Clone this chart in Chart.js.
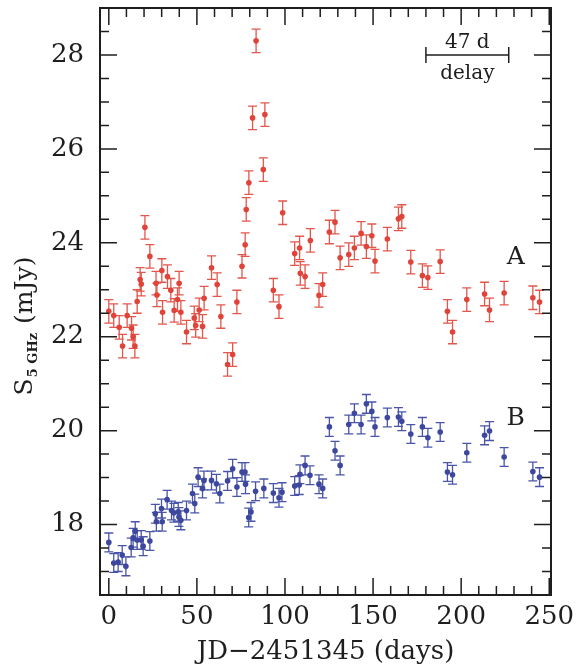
<!DOCTYPE html>
<html>
<head>
<meta charset="utf-8">
<script src="https://cdn.jsdelivr.net/npm/chart.js@4"></script>
<style>
  html, body { margin: 0; padding: 0; background: #fff; }
  #wrap { width: 576px; height: 671px; }
</style>
</head>
<body>
<div id="wrap"><canvas id="lightCurve"></canvas></div>
<script>
// Image A (red)
const daysA = [0, 2.8, 5.9, 7.8, 10.4, 12.9, 13.8, 14.8, 16.1, 17.8, 18.4, 20.5, 23.3, 26.8, 27.3,
  30.1, 30.5, 33.3, 35.2, 37.1, 39.0, 39.9, 40.9, 44.1, 48.5, 49.3, 51.3, 53.2, 54.1, 58.3, 61.5,
  63.6, 67.4, 70.3, 72.7, 75.6, 77.4, 78.0, 79.5, 81.6, 83.6, 87.7, 88.6, 93.4, 96.6, 98.7, 105.5,
  108.3, 108.7, 111.4, 114.4, 119.3, 121.4, 125.2, 128.4, 131.3, 136.2, 139.4, 143.2, 146.2, 149.3,
  151.1, 158.1, 164.4, 166.3, 171.4, 178.0, 181.1, 188.1, 192.2, 195.1, 203.2, 213.3, 216.1, 224.4,
  240.7, 244.5];
const fluxA = [22.54, 22.45, 22.2, 21.8, 22.45, 22.18, 22.0, 21.8, 22.75, 23.22, 23.12, 24.33, 23.71, 23.14, 22.89,
  23.41, 22.52, 23.28, 22.99, 22.56, 22.79, 23.14, 22.52, 22.1, 22.4, 22.24, 22.57, 22.22, 22.82, 23.47, 23.11,
  22.43, 21.41, 21.62, 22.74, 23.5, 23.96, 24.71, 25.28, 26.66, 28.3, 25.56, 26.73, 22.99, 22.64, 24.64, 23.77,
  23.89, 23.35, 23.28, 24.05, 22.88, 23.11, 24.23, 24.44, 23.68, 23.75, 23.89, 24.2, 23.92, 24.15,
  23.61, 24.08, 24.51, 24.56, 23.59, 23.3, 23.26, 23.6, 22.54, 22.1, 22.79, 22.91, 22.57, 22.93,
  22.83, 22.74];
const errA = 0.25;

// Image B (blue)
const daysB = [0, 2.8, 5.3, 7.6, 9.7, 12.7, 13.8, 15.0, 16.1, 18.4, 19.5, 23.3, 26.4, 27.0, 29.9,
  30.3, 33.1, 35.6, 36.9, 39.4, 39.8, 40.9, 44.1, 47.5, 48.8, 50.7, 53.2, 54.0, 58.3, 61.1, 63.0,
  67.4, 70.3, 72.7, 75.6, 77.3, 77.6, 79.4, 80.7, 83.3, 88.0, 93.4, 96.6, 98.3, 105.5, 108.1, 108.5,
  111.4, 114.2, 119.3, 121.4, 125.2, 128.4, 131.3, 136.2, 139.4, 143.2, 146.2, 149.3, 151.1, 158.1,
  164.4, 166.3, 171.4, 178.0, 181.1, 188.1, 192.2, 195.1, 203.2, 213.3, 216.1, 224.4, 240.7, 244.5];
const fluxB = [17.62, 17.18, 17.2, 17.35, 17.11, 17.51, 17.72, 17.86, 17.67, 17.67, 17.54, 17.65, 18.23, 18.06, 18.34,
  18.06, 18.53, 18.3, 18.25, 18.27, 18.16, 18.09, 18.3, 18.66, 18.45, 19.01, 18.77, 18.94, 18.94, 18.87, 18.66,
  18.93, 19.19, 18.8, 19.12, 19.12, 18.86, 18.15, 18.27, 18.71, 18.77, 18.67, 18.57, 18.69, 18.82, 18.84, 19.07,
  19.26, 19.05, 18.86, 18.77, 20.08, 19.57, 19.26, 20.13, 20.37, 20.13, 20.57, 20.41, 20.08, 20.28,
  20.29, 20.2, 19.93, 20.08, 19.85, 19.97, 19.12, 19.06, 19.53, 19.9, 19.99, 19.44, 19.13, 19.01];
const errB = 0.2;

const xTickLabels = [0, 50, 100, 150, 200, 250];
const yTickLabels = [18, 20, 22, 24, 26, 28];
const delayDays = 47;

const RED = '#e0433a';
const BLUE = '#3d479e';
const INK = '#1e1e1e';
const SERIF = '"DejaVu Serif", "Liberation Serif", serif';

const toPoints = (days, flux, err) => days.map((d, i) => ({ x: d, y: flux[i], e: err }));

// error bars with caps
const errorBars = {
  id: 'errorBars',
  beforeDatasetsDraw(chart) {
    const { ctx, scales: { x, y } } = chart;
    ctx.save();
    ctx.lineWidth = 1.3;
    chart.data.datasets.forEach((ds) => {
      ctx.strokeStyle = ds.barColor;
      ds.data.forEach((p) => {
        const px = x.getPixelForValue(p.x);
        const top = y.getPixelForValue(p.y + p.e);
        const bot = y.getPixelForValue(p.y - p.e);
        ctx.beginPath();
        ctx.moveTo(px, top); ctx.lineTo(px, bot);
        ctx.moveTo(px - 4.5, top); ctx.lineTo(px + 4.5, top);
        ctx.moveTo(px - 4.5, bot); ctx.lineTo(px + 4.5, bot);
        ctx.stroke();
      });
    });
    ctx.restore();
  },
};

// box frame with inward ticks on all four sides
const frameTicks = {
  id: 'frameTicks',
  afterDraw(chart) {
    const { ctx, chartArea: a, scales: { x, y } } = chart;
    ctx.save();
    ctx.strokeStyle = INK;
    ctx.lineWidth = 1.5;
    ctx.beginPath();
    for (let d = 0; d <= 250; d += 10) {
      const px = x.getPixelForValue(d);
      const len = d % 50 === 0 ? 17 : 9;
      ctx.moveTo(px, a.bottom); ctx.lineTo(px, a.bottom - len);
      ctx.moveTo(px, a.top); ctx.lineTo(px, a.top + len);
    }
    for (let v = 17; v <= 28.5; v += 0.5) {
      const py = y.getPixelForValue(v);
      const len = v % 2 === 0 ? 17 : 9;
      ctx.moveTo(a.left, py); ctx.lineTo(a.left + len, py);
      ctx.moveTo(a.right, py); ctx.lineTo(a.right - len, py);
    }
    ctx.stroke();
    ctx.lineWidth = 2;
    ctx.strokeRect(a.left, a.top, a.right - a.left, a.bottom - a.top);

    // y axis title: S_5GHz (mJy)
    ctx.fillStyle = INK;
    ctx.translate(24, 326);
    ctx.rotate(-Math.PI / 2);
    ctx.textBaseline = 'alphabetic';
    const big = '25px ' + SERIF;
    const small = 'bold 13px ' + SERIF;
    ctx.font = big; const wS = ctx.measureText('S').width;
    ctx.font = small; const wSub = ctx.measureText('5 GHz').width;
    ctx.font = big; const wU = ctx.measureText(' (mJy)').width;
    let cx = -(wS + wSub + 2 + wU) / 2;
    ctx.font = big; ctx.textAlign = 'left';
    ctx.fillText('S', cx, 8); cx += wS + 1;
    ctx.font = small; ctx.fillText('5 GHz', cx, 13); cx += wSub + 1;
    ctx.font = big; ctx.fillText(' (mJy)', cx, 8);
    ctx.restore();
  },
};

// "47 d delay" bar and image labels
const annotations = {
  id: 'annotations',
  afterDatasetsDraw(chart) {
    const { ctx, scales: { x, y } } = chart;
    ctx.save();
    ctx.strokeStyle = INK;
    ctx.fillStyle = INK;
    ctx.lineWidth = 1.5;
    const x0 = x.getPixelForValue(180);
    const x1 = x.getPixelForValue(180 + delayDays);
    const yb = y.getPixelForValue(28);
    ctx.beginPath();
    ctx.moveTo(x0, yb); ctx.lineTo(x1, yb);
    ctx.moveTo(x0, yb - 8); ctx.lineTo(x0, yb + 8);
    ctx.moveTo(x1, yb - 8); ctx.lineTo(x1, yb + 8);
    ctx.stroke();
    ctx.textAlign = 'center';
    ctx.textBaseline = 'middle';
    ctx.font = '20px ' + SERIF;
    ctx.fillText(delayDays + ' d', (x0 + x1) / 2, yb - 12);
    ctx.fillText('delay', (x0 + x1) / 2, yb + 19);
    ctx.font = '25px ' + SERIF;
    ctx.fillText('A', x.getPixelForValue(231), y.getPixelForValue(23.68));
    ctx.fillText('B', x.getPixelForValue(231), y.getPixelForValue(20.26));
    ctx.restore();
  },
};

const createChart = () => {
  new Chart(document.getElementById('lightCurve'), {
    type: 'scatter',
    data: {
      datasets: [
        {
          label: 'A',
          data: toPoints(daysA, fluxA, errA),
          backgroundColor: RED,
          borderColor: RED,
          barColor: '#e2574c',
          pointRadius: 2.8,
          borderWidth: 0,
        },
        {
          label: 'B',
          data: toPoints(daysB, fluxB, errB),
          backgroundColor: BLUE,
          borderColor: BLUE,
          barColor: '#4a55a8',
          pointRadius: 2.8,
          borderWidth: 0,
        },
      ],
    },
    options: {
      responsive: true,
      maintainAspectRatio: false,
      animation: false,
      layout: { padding: { top: 8, right: 25, left: 0, bottom: 0 } },
      plugins: {
        legend: { display: false },
        tooltip: { enabled: false },
      },
      scales: {
        x: {
          type: 'linear',
          min: -5,
          max: 251,
          grid: { display: false, drawTicks: false },
          border: { display: false },
          afterBuildTicks: (s) => { s.ticks = xTickLabels.map((v) => ({ value: v })); },
          afterFit: (s) => { s.height = 76; s.paddingLeft = 0; s.paddingRight = 0; },
          ticks: {
            color: INK,
            padding: 7,
            maxRotation: 0,
            font: { family: SERIF, size: 26 },
          },
          title: {
            display: true,
            text: 'JD\u22122451345 (days)',
            color: INK,
            padding: { top: 0, bottom: 3 },
            font: { family: SERIF, size: 26 },
          },
        },
        y: {
          min: 16.5,
          max: 29,
          grid: { display: false, drawTicks: false },
          border: { display: false },
          afterBuildTicks: (s) => { s.ticks = yTickLabels.map((v) => ({ value: v })); },
          afterFit: (s) => { s.width = 100; s.paddingTop = 0; s.paddingBottom = 0; },
          ticks: {
            color: INK,
            padding: 16,
            font: { family: SERIF, size: 26 },
          },
        },
      },
    },
    plugins: [errorBars, frameTicks, annotations],
  });
};

document.addEventListener('DOMContentLoaded', createChart);
</script>
</body>
</html>
